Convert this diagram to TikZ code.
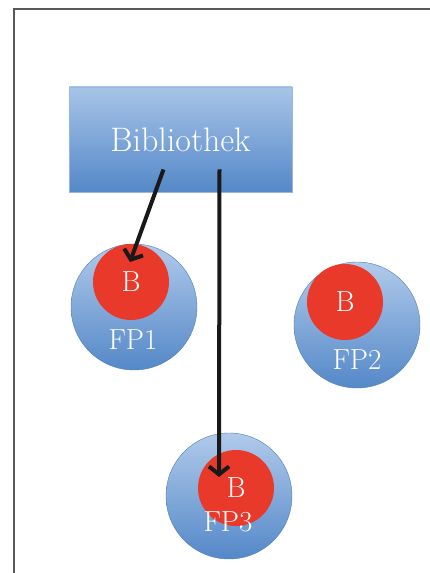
\documentclass[tikz,border=0pt]{standalone}
\usetikzlibrary{arrows.meta,positioning}
\definecolor{boxtop}{RGB}{168,196,232}
\definecolor{boxbot}{RGB}{84,136,200}
\definecolor{fpedge}{RGB}{80,125,185}
\definecolor{bred}{RGB}{232,57,42}
\tikzset{
  lib/.style   = {rectangle, minimum width=223pt, minimum height=105pt,
                  top color=boxtop, bottom color=boxbot, draw=boxtop!80!boxbot,
                  text=white, font=\fontsize{34}{36}\selectfont},
  fp/.style    = {circle, minimum size=126pt, top color=boxtop!90!white,
                  bottom color=boxbot, draw=fpedge, thin},
  bcirc/.style = {circle, minimum size=76pt, fill=bred, text=white,
                  font=\fontsize{29}{31}\selectfont},
  fplabel/.style = {text=white, font=\fontsize{29}{31}\selectfont},
  link/.style  = {->, line width=4pt, black!90}
}

\begin{document}
\begin{tikzpicture}[x=1pt, y=1pt,
  >={Straight Barb[length=8pt,width=20pt]}]
\useasboundingbox (0,0) rectangle (430,573);

% frame, cut at the right and bottom
\draw[line width=2pt, black!65] (14,0) -- (14,564) -- (430,564);

% library
\node[lib] (bib) at (180.5,433.5) {Bibliothek};

% the three programs, each with its copy of the library
\node[fp] (fp1) at (134,266) {};
\node[fp] (fp2) at (357,248) {};
\node[fp] (fp3) at (229,77) {};

\node[bcirc] (b1) at (131,291) {B};
\node[bcirc] (b2) at (345,271) {B};
\node[bcirc] (b3) at (236,85) {B};

\node[fplabel] (l1) at (133,233) {FP1};
\node[fplabel] (l2) at (357,213) {FP2};
\node[fplabel] (l3) at (228,51) {FP3};

% links
\draw[link] ([xshift=-17pt,yshift=-30pt]bib.center) -- ([xshift=-1pt,yshift=20pt]b1.center);
\draw[link] ([xshift=39pt,yshift=-30pt]bib.center) -- ([xshift=-17pt,yshift=11pt]b3.center);
\end{tikzpicture}
\end{document}
